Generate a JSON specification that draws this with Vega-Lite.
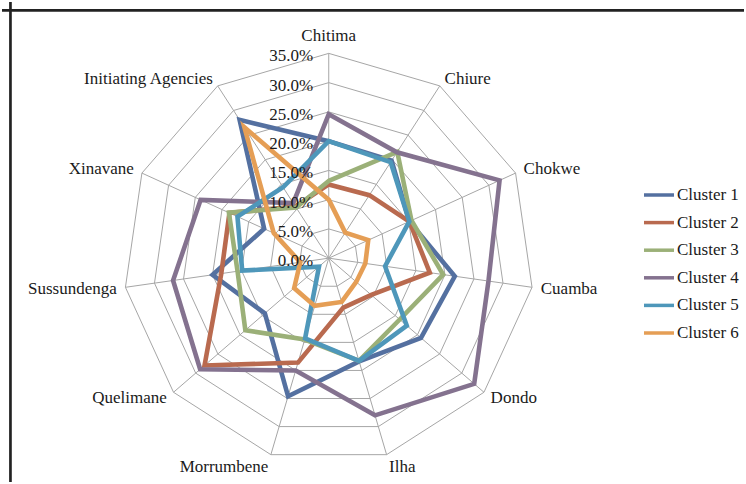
{
  "$schema": "https://vega.github.io/schema/vega-lite/v6.json",
  "width": 746,
  "height": 484,
  "autosize": {"type": "fit", "contains": "padding"},
  "padding": 0,
  "background": "white",
  "config": {"view": {"stroke": null}, "font": "Liberation Serif"},
  "datasets": {
    "sites": [
      {"site": "Chitima", "k": 0, "Cluster 1": 20, "Cluster 2": 12.6, "Cluster 3": 13.2, "Cluster 4": 24.6, "Cluster 5": 20, "Cluster 6": 10},
      {"site": "Chiure", "k": 1, "Cluster 1": 19.8, "Cluster 2": 12.8, "Cluster 3": 21.6, "Cluster 4": 21.5, "Cluster 5": 19.5, "Cluster 6": 5.2},
      {"site": "Chokwe", "k": 2, "Cluster 1": 15.1, "Cluster 2": 15.1, "Cluster 3": 15.5, "Cluster 4": 32, "Cluster 5": 15.1, "Cluster 6": 7.4},
      {"site": "Cuamba", "k": 3, "Cluster 1": 21.7, "Cluster 2": 17.4, "Cluster 3": 19.7, "Cluster 4": 27.5, "Cluster 5": 9.7, "Cluster 6": 6.3},
      {"site": "Dondo", "k": 4, "Cluster 1": 20.8, "Cluster 2": 9.6, "Cluster 3": 16, "Cluster 4": 32.8, "Cluster 5": 17.6, "Cluster 6": 6.2},
      {"site": "Ilha", "k": 5, "Cluster 1": 18.4, "Cluster 2": 8.8, "Cluster 3": 18.3, "Cluster 4": 28, "Cluster 5": 18.3, "Cluster 6": 7.8},
      {"site": "Morrumbene", "k": 6, "Cluster 1": 24.6, "Cluster 2": 18.6, "Cluster 3": 14.5, "Cluster 4": 20, "Cluster 5": 14.3, "Cluster 6": 8.5},
      {"site": "Quelimane", "k": 7, "Cluster 1": 14.4, "Cluster 2": 28, "Cluster 3": 18.8, "Cluster 4": 29, "Cluster 5": 2.2, "Cluster 6": 7.8},
      {"site": "Sussundenga", "k": 8, "Cluster 1": 20, "Cluster 2": 18.5, "Cluster 3": 15.7, "Cluster 4": 26.8, "Cluster 5": 14.9, "Cluster 6": 4.9},
      {"site": "Xinavane", "k": 9, "Cluster 1": 12.1, "Cluster 2": 18.6, "Cluster 3": 18.7, "Cluster 4": 24, "Cluster 5": 17.1, "Cluster 6": 10.3},
      {"site": "Initiating Agencies", "k": 10, "Cluster 1": 28.1, "Cluster 2": 10.5, "Cluster 3": 10.3, "Cluster 4": 11.2, "Cluster 5": 14.4, "Cluster 6": 26.6}
    ],
    "levels": [
      {"level": 0}, {"level": 5}, {"level": 10}, {"level": 15},
      {"level": 20}, {"level": 25}, {"level": 30}, {"level": 35}
    ],
    "rings": [
      {"level": 5, "k": [0, 1, 2, 3, 4, 5, 6, 7, 8, 9, 10]},
      {"level": 10, "k": [0, 1, 2, 3, 4, 5, 6, 7, 8, 9, 10]},
      {"level": 15, "k": [0, 1, 2, 3, 4, 5, 6, 7, 8, 9, 10]},
      {"level": 20, "k": [0, 1, 2, 3, 4, 5, 6, 7, 8, 9, 10]},
      {"level": 25, "k": [0, 1, 2, 3, 4, 5, 6, 7, 8, 9, 10]},
      {"level": 30, "k": [0, 1, 2, 3, 4, 5, 6, 7, 8, 9, 10]},
      {"level": 35, "k": [0, 1, 2, 3, 4, 5, 6, 7, 8, 9, 10]}
    ],
    "frame": [{"edge": "frame"}]
  },
  "layer": [
    {
      "data": {"name": "rings"},
      "transform": [
        {"flatten": ["k"]},
        {"calculate": "datum.k * 2 * PI / 11", "as": "theta"},
        {"calculate": "datum.level * sin(datum.theta)", "as": "px"},
        {"calculate": "datum.level * cos(datum.theta)", "as": "py"}
      ],
      "mark": {"type": "line", "interpolate": "linear-closed", "color": "#a6a6a6", "strokeWidth": 1},
      "encoding": {
        "x": {"field": "px", "type": "quantitative", "scale": {"domain": [-55.678, 70.763], "nice": false, "zero": false}, "axis": null},
        "y": {"field": "py", "type": "quantitative", "scale": {"domain": [-38.254, 43.78], "nice": false, "zero": false}, "axis": null},
        "detail": {"field": "level", "type": "nominal"},
        "order": {"field": "k", "type": "quantitative"}
      }
    },
    {
      "data": {"name": "sites"},
      "transform": [
        {"calculate": "datum.k * 2 * PI / 11", "as": "theta"},
        {"calculate": "35 * sin(datum.theta)", "as": "px"},
        {"calculate": "35 * cos(datum.theta)", "as": "py"}
      ],
      "mark": {"type": "rule", "color": "#a6a6a6", "strokeWidth": 1},
      "encoding": {
        "x": {"field": "px", "type": "quantitative", "scale": {"domain": [-55.678, 70.763], "nice": false, "zero": false}, "axis": null},
        "y": {"field": "py", "type": "quantitative", "scale": {"domain": [-38.254, 43.78], "nice": false, "zero": false}, "axis": null},
        "x2": {"datum": 0},
        "y2": {"datum": 0}
      }
    },
    {
      "data": {"name": "sites"},
      "transform": [
        {"fold": ["Cluster 1", "Cluster 2", "Cluster 3", "Cluster 4", "Cluster 5", "Cluster 6"], "as": ["cluster", "value"]},
        {"calculate": "datum.k * 2 * PI / 11", "as": "theta"},
        {"calculate": "datum.value * sin(datum.theta)", "as": "px"},
        {"calculate": "datum.value * cos(datum.theta)", "as": "py"}
      ],
      "mark": {"type": "line", "interpolate": "linear-closed", "strokeWidth": 4.6, "strokeJoin": "miter"},
      "encoding": {
        "x": {"field": "px", "type": "quantitative", "scale": {"domain": [-55.678, 70.763], "nice": false, "zero": false}, "axis": null},
        "y": {"field": "py", "type": "quantitative", "scale": {"domain": [-38.254, 43.78], "nice": false, "zero": false}, "axis": null},
        "order": {"field": "k", "type": "quantitative"},
        "color": {
          "field": "cluster",
          "type": "nominal",
          "scale": {
            "domain": ["Cluster 1", "Cluster 2", "Cluster 3", "Cluster 4", "Cluster 5", "Cluster 6"],
            "range": ["#5470a0", "#b96a4f", "#9bb078", "#84728f", "#4e97ba", "#e59e55"]
          },
          "legend": {
            "orient": "none",
            "legendX": 640,
            "legendY": 176,
            "title": null,
            "padding": 0,
            "symbolType": "stroke",
            "symbolSize": 900,
            "symbolStrokeWidth": 3.5,
            "labelFont": "Liberation Serif",
            "labelFontSize": 17,
            "labelColor": "#1a1a1a",
            "labelOffset": 1,
            "rowPadding": 2.6
          }
        }
      }
    },
    {
      "data": {"name": "levels"},
      "transform": [
        {"calculate": "format(datum.level / 100, '.1%')", "as": "lab"}
      ],
      "mark": {"type": "text", "align": "right", "baseline": "middle", "dx": -15.5, "dy": 3, "fontSize": 17, "font": "Liberation Serif", "color": "#1a1a1a"},
      "encoding": {
        "x": {"datum": 0, "scale": {"domain": [-55.678, 70.763], "nice": false, "zero": false}, "axis": null},
        "y": {"field": "level", "type": "quantitative", "scale": {"domain": [-38.254, 43.78], "nice": false, "zero": false}, "axis": null},
        "text": {"field": "lab"}
      }
    },
    {
      "data": {"name": "sites"},
      "transform": [
        {"filter": "datum.k == 0"},
        {"calculate": "datum.k * 2 * PI / 11", "as": "theta"},
        {"calculate": "36.5 * sin(datum.theta)", "as": "px"},
        {"calculate": "36.5 * cos(datum.theta)", "as": "py"}
      ],
      "mark": {"type": "text", "align": "center", "baseline": "bottom", "fontSize": 17, "font": "Liberation Serif", "color": "#1a1a1a"},
      "encoding": {
        "x": {"field": "px", "type": "quantitative", "scale": {"domain": [-55.678, 70.763], "nice": false, "zero": false}, "axis": null},
        "y": {"field": "py", "type": "quantitative", "scale": {"domain": [-38.254, 43.78], "nice": false, "zero": false}, "axis": null},
        "text": {"field": "site"}
      }
    },
    {
      "data": {"name": "sites"},
      "transform": [
        {"filter": "datum.k >= 1 && datum.k <= 5"},
        {"calculate": "datum.k * 2 * PI / 11", "as": "theta"},
        {"calculate": "36.5 * sin(datum.theta)", "as": "px"},
        {"calculate": "36.5 * cos(datum.theta) - (datum.k == 5 ? 0.6 : 0)", "as": "py"}
      ],
      "mark": {"type": "text", "align": "left", "baseline": "middle", "fontSize": 17, "font": "Liberation Serif", "color": "#1a1a1a"},
      "encoding": {
        "x": {"field": "px", "type": "quantitative", "scale": {"domain": [-55.678, 70.763], "nice": false, "zero": false}, "axis": null},
        "y": {"field": "py", "type": "quantitative", "scale": {"domain": [-38.254, 43.78], "nice": false, "zero": false}, "axis": null},
        "text": {"field": "site"}
      }
    },
    {
      "data": {"name": "sites"},
      "transform": [
        {"filter": "datum.k >= 6"},
        {"calculate": "datum.k * 2 * PI / 11", "as": "theta"},
        {"calculate": "36.5 * sin(datum.theta)", "as": "px"},
        {"calculate": "36.5 * cos(datum.theta) - (datum.k == 6 ? 0.6 : 0)", "as": "py"}
      ],
      "mark": {"type": "text", "align": "right", "baseline": "middle", "fontSize": 17, "font": "Liberation Serif", "color": "#1a1a1a"},
      "encoding": {
        "x": {"field": "px", "type": "quantitative", "scale": {"domain": [-55.678, 70.763], "nice": false, "zero": false}, "axis": null},
        "y": {"field": "py", "type": "quantitative", "scale": {"domain": [-38.254, 43.78], "nice": false, "zero": false}, "axis": null},
        "text": {"field": "site"}
      }
    },
    {
      "data": {"name": "frame"},
      "mark": {"type": "rule", "color": "#222222", "strokeWidth": 2.7},
      "encoding": {
        "y": {"datum": 42.34, "scale": {"domain": [-38.254, 43.78], "nice": false, "zero": false}, "axis": null}
      }
    },
    {
      "data": {"name": "frame"},
      "mark": {"type": "rule", "color": "#222222", "strokeWidth": 2.7},
      "encoding": {
        "x": {"datum": -54.237, "scale": {"domain": [-55.678, 70.763], "nice": false, "zero": false}, "axis": null}
      }
    }
  ]
}
